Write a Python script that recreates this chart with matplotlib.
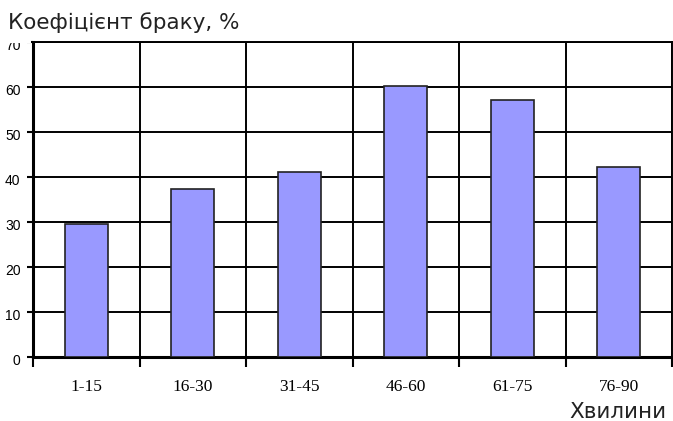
import matplotlib
matplotlib.use("Agg")
import matplotlib.pyplot as plt
from matplotlib.patches import Rectangle
from matplotlib.transforms import ScaledTranslation
import numpy as np

categories = ["1-15", "16-30", "31-45", "46-60", "61-75", "76-90"]
values = [29.6, 37.3, 41.1, 60.2, 57.1, 42.2]
yticks = [0, 10, 20, 30, 40, 50, 60, 70]

W, H = 673, 421
fig = plt.figure(figsize=(W / 100, H / 100), dpi=100)
ax = fig.add_axes([33 / W, (H - 357) / H, (672 - 33) / W, (357 - 42) / H])

x = np.arange(len(categories))
ax.bar(x, values, width=0.4, color="#9999FF", edgecolor="#222222", linewidth=1.2, zorder=3)

ax.set_xlim(-0.5, len(categories) - 0.5)
ax.set_ylim(0, 70)
ax.set_yticks(yticks)
ax.set_yticklabels([str(v) for v in yticks], fontsize=10, family="Liberation Sans")
ax.set_xticks(x)
ax.set_xticklabels(categories, fontsize=12.5, family="Liberation Serif")
ax.tick_params(axis="x", which="major", length=0, pad=16)
ax.set_xticks(np.arange(-0.5, len(categories), 1.0), minor=True)
ax.tick_params(axis="x", which="minor", length=7, width=1.5, direction="out", color="black")
ax.tick_params(axis="y", which="major", length=4, width=1.5, direction="out", pad=5, color="black")

shift = ScaledTranslation(0, -2.5 / 100, fig.dpi_scale_trans)
for lbl in ax.get_yticklabels():
    lbl.set_transform(lbl.get_transform() + shift)

ax.grid(True, axis="y", which="major", color="black", linewidth=1.4, zorder=1)
ax.grid(True, axis="x", which="minor", color="black", linewidth=1.4, zorder=1)
ax.set_axisbelow(True)
for side in ["left", "bottom"]:
    ax.spines[side].set_linewidth(2.2)
for side in ["top", "right"]:
    ax.spines[side].set_linewidth(1.4)

# white band covering top part of the "70" label as in reference
fig.patches.append(Rectangle((0, (H - 43) / H), 31 / W, 43 / H, transform=fig.transFigure,
                             facecolor="white", edgecolor="none", zorder=5))
fig.patches.append(Rectangle((0, (H - 40) / H), 1, 40 / H, transform=fig.transFigure,
                             facecolor="white", edgecolor="none", zorder=5))
fig.text(8 / W, 1 - 29 / H, "Коефіцієнт браку, %", fontsize=15.5, family="DejaVu Sans",
         ha="left", va="baseline", zorder=6, color="#222222")
fig.text(666 / W, 1 - 418 / H, "Хвилини", fontsize=15.5, family="DejaVu Sans",
         ha="right", va="baseline", color="#222222")

fig.savefig("out.png", dpi=100)
